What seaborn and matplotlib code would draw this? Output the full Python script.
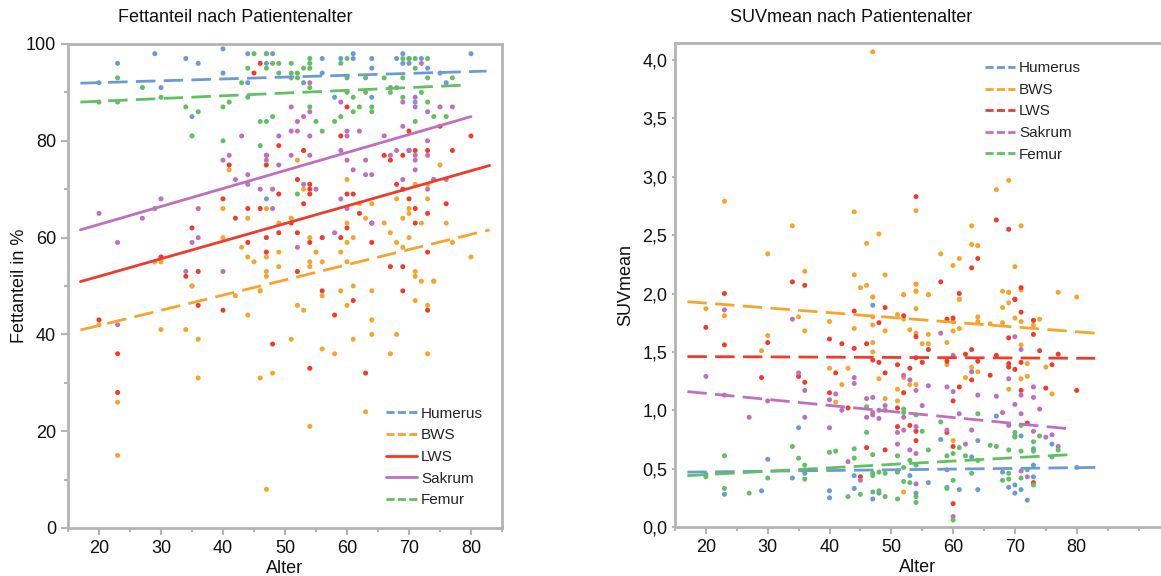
import numpy as np
import pandas as pd
import matplotlib
matplotlib.use("Agg")
import matplotlib.pyplot as plt
import seaborn as sns
from matplotlib.lines import Line2D
from matplotlib.ticker import MultipleLocator, FuncFormatter

regions = ["Humerus", "BWS", "LWS", "Sakrum", "Femur"]
colors = {"Humerus": "#6b9bd2", "BWS": "#f7a42c", "LWS": "#f03a2a",
          "Sakrum": "#c06fbe", "Femur": "#62bf63"}

# ---------------- Fettanteil (left) ----------------
fett_humerus_age = [20,23,29,30,34,35,36,40,40,44,44,47,47,47,48,53,56,56,58,59,61,61,64,64,64,67,68,69,69,70,70,71,72,73,75,76,80]
fett_humerus_val = [92,96,98,91,97,85,96,99,94,98,92,98,96,68,98,92,97,94,89,97,98,97,97,95,89,91,97,98,96,97,96,88,97,95,94,92,98]

fett_femur_age = [20,23,23,27,30,34,35,36,40,40,41,43,44,44,45,46,46,47,47,47,48,48,49,49,51,51,51,52,52,52,53,54,54,54,54,54,55,56,58,59,59,60,60,60,61,61,62,63,63,64,64,66,67,68,69,69,69,70,71,71,71,72,73,73,73,74,76,77]
fett_femur_val = [88,93,88,91,89,87,81,86,87,80,88,92,95,89,98,84,79,98,95,84,96,85,96,94,96,94,93,94,93,69,95,97,96,95,91,87,84,82,84,96,85,97,93,90,89,86,87,93,90,87,86,93,90,91,97,93,89,97,97,95,84,90,97,93,88,85,85,93]

fett_sakrum_age = [20,23,23,27,29,30,34,35,36,36,40,40,41,42,43,44,44,46,47,47,48,48,49,49,51,51,51,52,52,52,53,53,54,54,54,54,55,58,59,59,59,60,60,60,60,61,62,63,63,64,64,66,67,68,69,69,69,70,71,71,71,71,71,72,73,73,73,73,74,75,76,77]
fett_sakrum_val = [65,59,42,64,66,68,53,59,66,60,76,53,77,72,81,73,71,70,77,76,70,66,81,75,87,82,77,84,82,58,85,71,92,86,81,77,70,61,88,78,68,82,81,76,66,74,82,76,73,73,63,81,77,78,88,83,72,78,89,87,77,76,74,96,86,80,77,70,72,87,72,87]

fett_lws_age = [30,34,35,36,40,41,42,44,44,45,46,46,47,47,47,47,49,49,49,51,52,52,52,53,53,54,54,54,54,56,59,59,60,60,60,61,62,64,64,66,67,67,68,69,69,69,70,70,70,71,71,71,73,73,73,74,75,76,77,80,
                20,23,23,36,40,48,54,56,58,61,63,69,73]
fett_lws_val = [56,52,62,53,68,75,64,66,59,94,96,66,77,75,60,57,79,69,61,63,72,61,53,78,67,71,70,69,59,60,81,60,87,69,62,69,65,63,59,77,76,54,71,77,70,54,82,78,68,78,66,63,78,65,57,72,83,67,78,81,
                43,36,28,46,45,38,33,49,44,47,32,49,45]

fett_bws_age = [20,23,23,30,34,36,36,35,42,44,46,46,47,48,51,52,53,54,56,56,58,59,60,61,61,63,64,64,64,67,68,71,72,73,73,74,
                41,40,40,43,44,44,45,46,47,47,47,47,49,49,49,51,52,53,53,54,54,54,55,56,59,60,60,60,60,61,62,63,64,66,67,68,68,70,70,70,71,71,71,72,73,73,74,75,76,77,80,69,69,30,29,35]
fett_bws_val = [42,26,15,41,41,39,31,50,48,44,49,31,8,32,39,46,45,21,48,37,36,49,46,50,39,24,49,43,40,36,40,47,51,46,36,51,
                74,66,60,58,64,56,55,49,66,56,53,52,63,57,54,64,76,78,70,60,55,54,57,55,57,72,63,59,55,60,67,64,67,63,61,59,68,66,65,60,71,53,52,63,68,71,51,75,63,59,56,58,64,55,55,50]

# fitted trend lines (end points)
fett_trend_x = {"Humerus": [17, 82.5], "BWS": [17, 83], "LWS": [17, 83], "Sakrum": [17, 80], "Femur": [17, 79]}
fett_trend_y = {"Humerus": [91.9, 94.4], "BWS": [40.9, 61.6], "LWS": [50.9, 74.9], "Sakrum": [61.6, 85.0], "Femur": [88.0, 91.5]}
fett_trend_style = {"Humerus": "dashed", "BWS": "dashed", "LWS": "solid", "Sakrum": "solid", "Femur": "dashed"}

# ---------------- SUVmean (right) ----------------
suv_bws_age = [47,23,34,30,36,44,46,48,44,49,45,46,47,52,54,54,54,56,58,60,61,63,63,64,67,69,68,69,70,71,71,77,80,61,
               20,23,29,30,35,36,40,40,41,42,43,44,47,47,47,47,47,48,49,49,51,51,51,52,52,52,52,53,53,54,54,54,54,54,55,56,56,56,59,59,60,60,60,61,61,63,63,62,64,64,64,66,68,68,69,69,69,70,71,71,71,72,72,73,74,75,76]
suv_bws_val = [4.07,2.79,2.58,2.34,2.19,2.70,2.43,2.51,2.16,2.16,2.05,2.07,1.97,1.99,2.71,2.08,2.02,1.99,2.34,2.24,2.30,2.58,2.42,2.41,2.89,2.97,2.02,2.01,2.23,2.58,2.03,2.01,1.97,1.95,
               1.87,1.81,1.51,1.64,1.80,1.68,1.76,1.36,1.07,1.22,1.36,1.70,1.97,1.80,1.73,1.58,1.50,1.27,1.68,1.10,1.82,1.18,1.08,1.99,1.78,1.28,0.30,1.69,1.22,2.08,2.02,1.87,1.66,1.22,1.57,1.99,1.65,1.57,1.58,1.39,1.68,1.76,0.74,1.70,1.95,1.37,1.33,1.28,1.80,1.76,1.33,1.74,1.88,1.75,2.01,1.92,1.18,1.79,1.76,1.56,1.27,1.40,1.29,1.73,1.78,1.37,1.14]

suv_lws_age = [23,34,36,54,58,61,63,64,67,69,71,70,
               20,23,29,30,35,36,40,40,41,42,43,44,44,45,46,46,47,48,48,49,49,49,51,51,51,52,52,53,53,54,54,54,54,55,56,59,59,59,60,60,60,60,61,62,63,63,64,66,67,69,69,69,70,70,71,71,71,72,73,73,73,74,75,76,77,80]
suv_lws_val = [2.00,2.10,2.07,2.83,2.10,2.00,2.22,2.30,2.63,2.55,2.05,1.95,
               1.71,1.56,1.28,1.58,1.29,1.24,1.61,1.15,1.32,1.57,1.02,1.85,1.53,0.43,1.57,0.68,1.43,1.75,1.41,1.88,1.32,0.66,1.39,1.02,0.86,1.81,1.15,1.36,0.87,1.63,1.45,0.82,0.74,1.41,1.52,1.78,1.42,0.81,1.79,1.08,0.69,0.20,1.20,1.48,1.52,1.26,1.42,1.30,1.47,1.62,1.40,1.37,1.95,1.35,1.84,1.41,1.17,0.89,1.77,1.65,0.38,1.51,1.19,1.39,1.48,1.17]

suv_sakrum_age = [20,23,23,27,30,34,35,36,36,40,40,41,42,43,44,44,45,46,46,47,47,47,48,48,49,49,51,51,52,52,52,53,53,54,54,54,54,55,56,58,59,59,59,60,60,60,61,62,63,63,64,67,68,69,69,70,70,71,71,71,71,72,73,73,73,74,75,76,77]
suv_sakrum_val = [1.29,1.86,1.13,0.94,1.08,1.78,1.32,1.17,0.94,1.09,0.85,1.14,1.00,0.56,1.28,1.23,0.40,1.10,0.94,1.11,0.98,0.96,1.00,0.93,1.04,1.00,0.81,0.71,1.30,0.94,0.83,1.26,0.66,1.17,0.86,0.63,0.37,1.04,1.21,1.66,1.20,0.83,0.49,1.47,1.16,0.09,0.97,0.71,1.33,0.83,1.13,1.12,0.98,1.27,0.87,1.63,1.05,1.52,1.13,0.97,0.48,0.43,1.20,1.11,0.82,1.01,0.77,0.79,0.69]

suv_femur_age = [20,23,23,27,30,34,35,36,36,40,41,43,44,44,45,46,46,47,47,47,47,48,48,49,49,51,51,51,52,52,52,52,53,53,54,54,54,54,55,56,58,59,59,60,60,60,61,62,63,64,64,66,67,68,69,69,69,70,70,71,71,71,72,73,73,73,74,76,77]
suv_femur_val = [0.43,0.61,0.33,0.29,0.42,0.69,0.59,0.53,0.41,0.64,0.65,0.26,0.67,0.59,0.28,1.03,0.81,0.62,0.46,0.44,0.30,0.47,0.31,0.46,0.26,0.61,0.48,0.24,1.01,0.98,0.51,0.39,0.57,0.38,0.96,0.53,0.26,0.21,0.82,0.66,0.90,0.61,0.33,0.63,0.40,0.06,0.68,0.61,0.46,0.97,0.57,0.70,0.69,0.40,0.66,0.46,0.41,0.81,0.77,0.87,0.65,0.42,0.49,0.73,0.65,0.36,0.78,0.60,0.66]

suv_humerus_age = [20,23,29,30,34,35,36,40,40,44,44,47,47,48,51,53,54,56,58,59,61,63,64,64,67,68,69,70,70,70,71,71,72,73,73,76,80,73]
suv_humerus_val = [0.45,0.28,0.31,0.58,0.42,0.85,0.46,0.31,0.25,0.44,0.33,1.90,0.24,0.29,0.47,0.44,0.29,0.38,0.75,0.34,0.32,0.60,0.74,0.32,0.95,0.47,0.34,0.78,0.36,0.29,0.78,0.32,0.23,0.67,0.43,0.71,0.51,0.53]

suv_trend_x = {"Humerus": [17, 83], "BWS": [17, 83], "LWS": [17, 83], "Sakrum": [17, 79], "Femur": [17, 79]}
suv_trend_y = {"Humerus": [0.47, 0.51], "BWS": [1.93, 1.66], "LWS": [1.46, 1.445], "Sakrum": [1.16, 0.84], "Femur": [0.44, 0.62]}

x_ticks = [20, 30, 40, 50, 60, 70, 80]


def long_frame(pairs):
    rows = []
    for reg, (a, v) in pairs.items():
        rows.append(pd.DataFrame({"Alter": a, "Wert": v, "Region": reg}))
    return pd.concat(rows, ignore_index=True)


fett_df = long_frame({"Humerus": (fett_humerus_age, fett_humerus_val),
                      "BWS": (fett_bws_age, fett_bws_val),
                      "LWS": (fett_lws_age, fett_lws_val),
                      "Sakrum": (fett_sakrum_age, fett_sakrum_val),
                      "Femur": (fett_femur_age, fett_femur_val)})
suv_df = long_frame({"Humerus": (suv_humerus_age, suv_humerus_val),
                     "BWS": (suv_bws_age, suv_bws_val),
                     "LWS": (suv_lws_age, suv_lws_val),
                     "Sakrum": (suv_sakrum_age, suv_sakrum_val),
                     "Femur": (suv_femur_age, suv_femur_val)})

sns.set_theme(style="ticks")
plt.rcParams["font.family"] = ["Liberation Sans", "DejaVu Sans"]

fig = plt.figure(figsize=(11.61, 5.76), dpi=100)
ax1 = fig.add_axes([68 / 1161, 48 / 576, 434 / 1161, 484 / 576])
ax2 = fig.add_axes([675 / 1161, 49 / 576, 486 / 1161, 484 / 576])

spine_col = "#b4b4b4"
dash = (0, (7, 3))
legend_dash = (0, (2.9, 1.2))

for ax, df in [(ax1, fett_df), (ax2, suv_df)]:
    sns.scatterplot(data=df, x="Alter", y="Wert", hue="Region", palette=colors,
                    hue_order=regions, s=13, linewidth=0, legend=False, ax=ax, zorder=2)

handles1 = []
for reg in regions:
    dashed = fett_trend_style[reg] == "dashed"
    ax1.plot(fett_trend_x[reg], fett_trend_y[reg], color=colors[reg], lw=2.0,
             linestyle=dash if dashed else "solid", zorder=3)
    handles1.append(Line2D([], [], color=colors[reg], lw=2.0,
                           linestyle=legend_dash if dashed else "solid", label=reg))
handles2 = []
for reg in regions:
    ax2.plot(suv_trend_x[reg], suv_trend_y[reg], color=colors[reg], lw=2.0,
             linestyle=dash, zorder=3)
    handles2.append(Line2D([], [], color=colors[reg], lw=2.0, linestyle=legend_dash, label=reg))

ax1.set_xlim(15, 85)
ax1.set_ylim(0, 100)
ax2.set_xlim(15, 15 + 486 / 6.18)
ax2.set_ylim(0, 4.146)

for ax in (ax1, ax2):
    ax.set_xticks(x_ticks)
    ax.xaxis.set_minor_locator(MultipleLocator(5))
    for s in ax.spines.values():
        s.set_color(spine_col)
        s.set_linewidth(2)
    ax.tick_params(axis="both", which="both", colors=spine_col, labelcolor="#111111",
                   labelsize=13, width=1.5)
    ax.tick_params(which="major", length=5)
    ax.tick_params(which="minor", length=3)
    ax.set_xlabel("Alter", fontsize=13, color="#111111", labelpad=2)
    ax.set_facecolor("white")

ax1.yaxis.set_major_locator(MultipleLocator(20))
ax1.yaxis.set_minor_locator(MultipleLocator(10))
ax1.set_ylabel("Fettanteil in %", fontsize=13, color="#111111")
ax1.yaxis.set_label_coords(-0.093, 0.5)

ax2.yaxis.set_major_locator(MultipleLocator(0.5))
ax2.yaxis.set_major_formatter(FuncFormatter(lambda v, p: f"{v:.1f}".replace(".", ",")))
ax2.tick_params(axis="y", which="major", length=2)
ax2.set_ylabel("SUVmean", fontsize=13, color="#111111")
ax2.yaxis.set_label_coords(-0.084, 0.5)
ax2.spines["right"].set_visible(False)

leg1 = ax1.legend(handles=handles1, loc="lower right", bbox_to_anchor=(0.97, 0.03),
                  frameon=False, fontsize=11, handlelength=2.0, handletextpad=0.25,
                  labelspacing=0.5, borderaxespad=0)
leg2 = ax2.legend(handles=handles2, loc="upper left", bbox_to_anchor=(0.625, 0.975),
                  frameon=False, fontsize=11, handlelength=2.0, handletextpad=0.25,
                  labelspacing=0.5, borderaxespad=0)

fig.text(235 / 1161, 1 - 18 / 576, "Fettanteil nach Patientenalter", ha="center", va="center",
         fontsize=13, color="#111111")
fig.text(851 / 1161, 1 - 18 / 576, "SUVmean nach Patientenalter", ha="center", va="center",
         fontsize=13, color="#111111")

fig.savefig("out.png", dpi=100, facecolor="white")
